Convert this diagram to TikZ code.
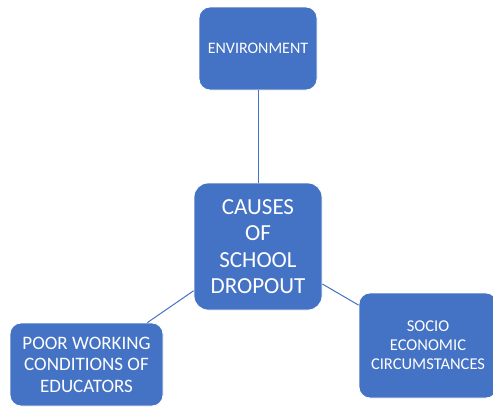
\documentclass[tikz,border=0pt]{standalone}
\usepackage{fontspec}
\setmainfont{Carlito}
\definecolor{boxblue}{HTML}{4472C4}
\definecolor{lineblue}{HTML}{4472C4}
\tikzset{
  causebox/.style={draw=white, line width=0.8pt, fill=boxblue, rounded corners=11pt,
    text=white, align=center, inner sep=0pt},
  link/.style={draw=lineblue, line width=1pt}
}
\begin{document}
\begin{tikzpicture}[x=1pt,y=-1pt]
\useasboundingbox (0,0) rectangle (493,407);
\node[causebox, minimum width=118pt, minimum height=83pt,
  font=\fontsize{16}{19}\selectfont] (env) at (258,48.5) {ENVIRONMENT};
\node[causebox, minimum width=128pt, minimum height=127pt, rounded corners=14pt,
  font=\fontsize{23}{26.5}\selectfont] (main) at (258,246.5) {CAUSES\\OF\\SCHOOL\\DROPOUT};
\node[causebox, minimum width=153pt, minimum height=83pt,
  font=\fontsize{19}{21.5}\selectfont] (poor) at (86.5,364.5) {POOR WORKING\\CONDITIONS OF\\EDUCATORS};
\node[causebox, minimum width=138pt, minimum height=105pt,
  font=\fontsize{16.5}{19}\selectfont] (socio) at (428,345.5) {SOCIO\\ECONOMIC\\CIRCUMSTANCES};
\draw[link] (env) -- (main);
\draw[link] (main) -- (poor);
\draw[link] (main) -- (socio);
\end{tikzpicture}
\end{document}
